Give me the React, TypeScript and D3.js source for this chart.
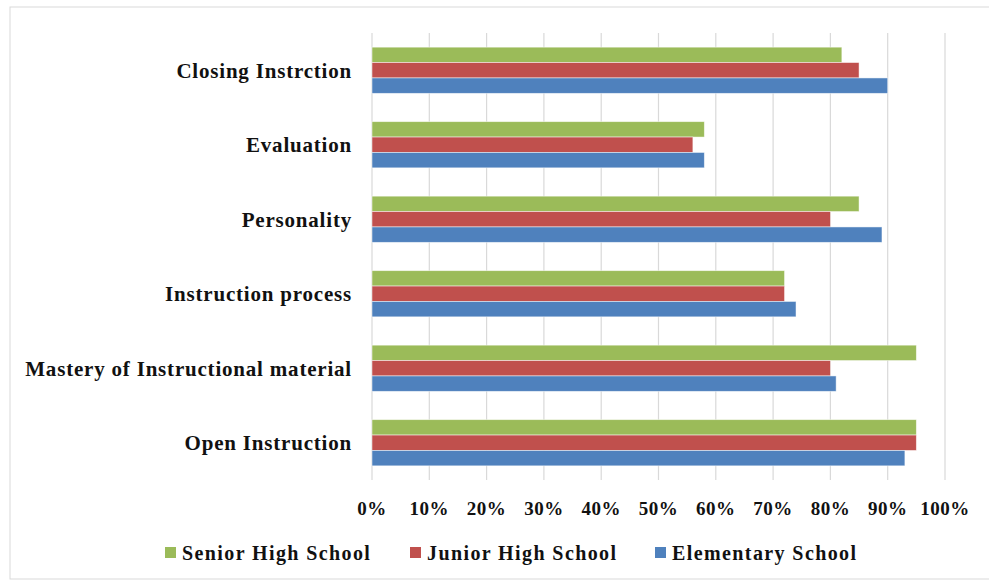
import React from "react";
import * as d3 from "d3";

const categories = [
  "Open Instruction",
  "Mastery of Instructional material",
  "Instruction process",
  "Personality",
  "Evaluation",
  "Closing Instrction",
];
const seriesNames = ["Senior High School", "Junior High School", "Elementary School"];
const seriesColors = ["#9BBB59", "#C0504D", "#4F81BD"];
const seniorHigh = [0.95, 0.95, 0.72, 0.85, 0.58, 0.82];
const juniorHigh = [0.95, 0.8, 0.72, 0.8, 0.56, 0.85];
const elementary = [0.93, 0.81, 0.74, 0.89, 0.58, 0.9];
const xTicks = [0, 0.1, 0.2, 0.3, 0.4, 0.5, 0.6, 0.7, 0.8, 0.9, 1.0];

const W = 989;
const H = 581;
const FONT = "'Liberation Serif', 'Times New Roman', serif";

export default function App() {
  const seriesValues = [seniorHigh, juniorHigh, elementary];
  const x = d3.scaleLinear().domain([0, 1]).range([372, 945]);
  // top category first, bottom last
  const y = d3
    .scaleBand<string>()
    .domain([...categories].reverse())
    .range([33, 480])
    .paddingInner(0.38)
    .paddingOuter(0.19);
  const inner = d3
    .scaleBand<string>()
    .domain(seriesNames)
    .range([0, y.bandwidth()]);
  const fmt = d3.format(".0%");

  return (
    <svg
      width={W}
      height={H}
      style={{ position: "absolute", left: 0, top: 0, background: "#fff" }}
      fontFamily={FONT}
    >
      <rect x={10} y={7} width={985} height={572} fill="#fff" stroke="#d9d9d9" strokeWidth={1} />
      {xTicks.map((t) => (
        <line key={t} x1={x(t)} x2={x(t)} y1={33} y2={480} stroke="#d9d9d9" strokeWidth={1.2} />
      ))}
      {categories.map((c, ci) => (
        <g key={c}>
          {seriesNames.map((s, si) => (
            <rect
              key={s}
              x={x(0)}
              y={(y(c) as number) + (inner(s) as number)}
              width={x(seriesValues[si][ci]) - x(0)}
              height={inner.bandwidth()}
              fill={seriesColors[si]}
              stroke="#ffffff"
              strokeOpacity={0.6}
              strokeWidth={0.8}
            />
          ))}
          <text
            x={352}
            y={(y(c) as number) + y.bandwidth() / 2}
            dy="0.35em"
            textAnchor="end"
            fontSize={21}
            letterSpacing={0.8}
            fontWeight="bold"
            fill="#111"
          >
            {c}
          </text>
        </g>
      ))}
      {xTicks.map((t) => (
        <text
          key={"l" + t}
          x={x(t)}
          y={508}
          dy="0.35em"
          textAnchor="middle"
          fontSize={19}
          letterSpacing={0.5}
          fontWeight="bold"
          fill="#111"
        >
          {fmt(t)}
        </text>
      ))}
      {seriesNames.map((s, si) => {
        const lx = [165, 410, 655][si];
        return (
          <g key={"lg" + s}>
            <rect x={lx} y={547} width={11} height={11} fill={seriesColors[si]} />
            <text
              x={lx + 17}
              y={553}
              dy="0.35em"
              fontSize={20}
              letterSpacing={1.4}
              fontWeight="bold"
              fill="#111"
            >
              {s}
            </text>
          </g>
        );
      })}
    </svg>
  );
}
